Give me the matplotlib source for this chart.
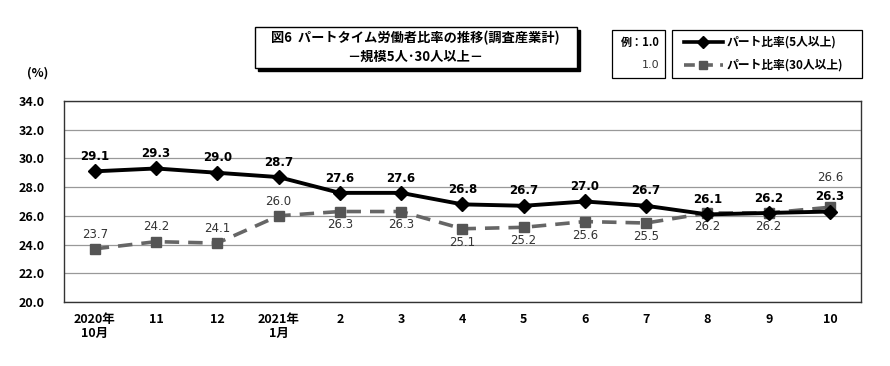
import matplotlib.pyplot as plt
from matplotlib.patches import Rectangle
from matplotlib.lines import Line2D

plt.rcParams['font.family'] = ['Noto Sans CJK JP', 'DejaVu Sans']
NUM = ['Liberation Sans Narrow', 'DejaVu Sans']

months = ['2020年\n10月', '11', '12', '2021年\n1月', '2', '3', '4', '5', '6', '7', '8', '9', '10']
part5 = [29.1, 29.3, 29.0, 28.7, 27.6, 27.6, 26.8, 26.7, 27.0, 26.7, 26.1, 26.2, 26.3]
part30 = [23.7, 24.2, 24.1, 26.0, 26.3, 26.3, 25.1, 25.2, 25.6, 25.5, 26.2, 26.2, 26.6]
# label below the point for the 30+ series?
below30 = [False, False, False, False, True, True, True, True, True, True, True, True, False]

fig = plt.figure(figsize=(8.9, 3.66), dpi=100)
ax = fig.add_axes([0.072, 0.175, 0.895, 0.549])
x = list(range(len(months)))

ax.plot(x, part30, color='#666666', lw=2.6, ls=(0, (4, 2.5)), marker='s', ms=7,
        mfc='#555555', mec='#555555', zorder=3)
ax.plot(x, part5, color='black', lw=2.8, marker='D', ms=7, zorder=4)

for i in x:
    ax.annotate(f'{part5[i]:.1f}', (i, part5[i]), xytext=(0, 6), textcoords='offset points',
                ha='center', va='bottom', fontsize=8.5, fontweight='bold', family=NUM)
    if below30[i]:
        ax.annotate(f'{part30[i]:.1f}', (i, part30[i]), xytext=(0, -5), textcoords='offset points',
                    ha='center', va='top', fontsize=8.5, color='#333333', family=NUM)
    else:
        off = 17 if i == 12 else 6
        ax.annotate(f'{part30[i]:.1f}', (i, part30[i]), xytext=(0, off), textcoords='offset points',
                    ha='center', va='bottom', fontsize=8.5, color='#333333', family=NUM)

ax.set_xlim(-0.5, 12.5)
ax.set_ylim(20, 34)
ax.set_yticks([20, 22, 24, 26, 28, 30, 32, 34])
ax.set_yticklabels([f'{v:.1f}' for v in ax.get_yticks()], fontsize=9, fontweight='bold')
ax.set_xticks(x)
ax.set_xticklabels(months, fontsize=9, fontweight='bold', va='top', linespacing=1.1)
ax.tick_params(length=0, pad=8)
ax.tick_params(axis='y', pad=14)
ax.yaxis.grid(True, color='#999999', lw=0.9)
ax.set_axisbelow(True)
for s in ax.spines.values():
    s.set_color('#333333')
    s.set_linewidth(1.0)

fig.text(0.042, 0.8, '(%)', fontsize=9, fontweight='bold', ha='center', va='center')

# title box with shadow
fig.patches.append(Rectangle((0.2895, 0.806), 0.362, 0.112, transform=fig.transFigure,
                             facecolor='black', edgecolor='black', zorder=1))
fig.patches.append(Rectangle((0.2865, 0.814), 0.362, 0.112, transform=fig.transFigure,
                             facecolor='white', edgecolor='black', lw=1.0, zorder=2))
fig.text(0.467, 0.895, '図6  パートタイム労働者比率の推移(調査産業計)', fontsize=9.5,
         fontweight='bold', ha='center', va='center', zorder=3)
fig.text(0.467, 0.845, '－規模5人･30人以上－', fontsize=9.5, fontweight='bold',
         ha='center', va='center', zorder=3)

# example box
fig.patches.append(Rectangle((0.688, 0.788), 0.059, 0.13, transform=fig.transFigure,
                             facecolor='white', edgecolor='black', lw=0.9))
fig.text(0.741, 0.885, '例：1.0', fontsize=8, fontweight='bold', ha='right', va='center')
fig.text(0.741, 0.822, '1.0', fontsize=8, color='#333333', ha='right', va='center', family=NUM)

# legend box
fig.patches.append(Rectangle((0.755, 0.788), 0.213, 0.13, transform=fig.transFigure,
                             facecolor='white', edgecolor='black', lw=0.9))
fig.lines.append(Line2D([0.768, 0.79, 0.812], [0.885, 0.885, 0.885], transform=fig.transFigure,
                        color='black', lw=2.6, marker='D', ms=6, markevery=[1]))
fig.lines.append(Line2D([0.768, 0.79, 0.812], [0.822, 0.822, 0.822], transform=fig.transFigure,
                        color='#666666', lw=2.6, ls=(0, (3, 2)), marker='s', ms=6,
                        mfc='#555555', mec='#555555', markevery=[1]))
fig.text(0.816, 0.885, 'パート比率(5人以上)', fontsize=8.5, fontweight='bold', va='center')
fig.text(0.816, 0.822, 'パート比率(30人以上)', fontsize=8.5, fontweight='bold', va='center')

fig.savefig('out.png', dpi=100)
